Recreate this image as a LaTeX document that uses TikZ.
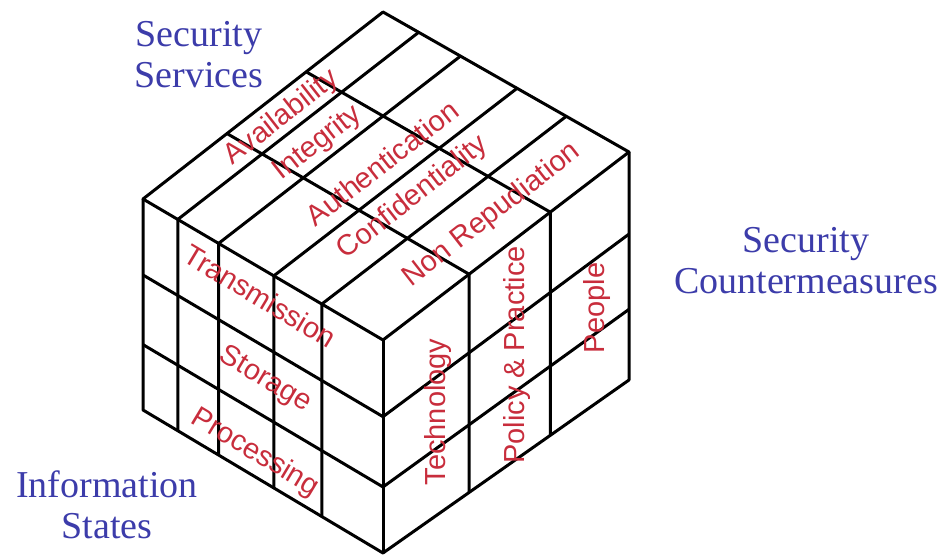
\documentclass[tikz,border=0pt]{standalone}
\usepackage{fontspec}
\setmainfont{Liberation Serif}
\newfontfamily\cubesans{Liberation Sans}
\usepackage{tikz}
\usetikzlibrary{calc}
\usepackage{xcolor}
\definecolor{dimblue}{RGB}{60,60,170}
\definecolor{cubered}{RGB}{200,45,60}

\begin{document}
\begin{tikzpicture}[x={(0.5pt,0)}, y={(0,-0.5pt)},
    cubeline/.style={line width=1.5pt, line join=round},
    dimlabel/.style={text=dimblue, align=center, font=\fontsize{19}{20.5}\selectfont},
    celllabel/.style={text=cubered, font=\cubesans\fontsize{14.5}{16}\selectfont}]
    \useasboundingbox (0,0) rectangle (944,557);

    % corners of the cube (pixel grid of the page)
    \coordinate (T)  at (383,12);
    \coordinate (L)  at (143,199);
    \coordinate (F)  at (383,340);
    \coordinate (R)  at (629,152);
    \coordinate (LB) at (143,410);
    \coordinate (FB) at (383,553);
    \coordinate (RB) at (629,380);

    \draw[cubeline] (L) -- (T) -- (R) -- (F) -- cycle;
    \draw[cubeline] (L) -- (LB) -- (FB) -- (RB) -- (R);
    \draw[cubeline] (F) -- (FB);
    % services: five slices
    \foreach \t in {0.145,0.315,0.545,0.745} {
        \draw[cubeline] ($(LB)!\t!(FB)$) -- ($(L)!\t!(F)$) -- ($(T)!\t!(R)$);
    }
    % countermeasures: three slices
    \foreach \s in {0.35,0.68} {
        \draw[cubeline] ($(L)!\s!(T)$) -- ($(F)!\s!(R)$) -- ($(FB)!\s!(RB)$);
    }
    % information states: three slices
    \foreach \r in {0.36,0.69} {
        \draw[cubeline] ($(L)!\r!(LB)$) -- ($(F)!\r!(FB)$) -- ($(R)!\r!(RB)$);
    }

    \node[celllabel, rotate=38] (avail) at (282,118) {Availability};
    \node[celllabel, rotate=38] (integ) at (318,143) {Integrity};
    \node[celllabel, rotate=38] (authn) at (382,163) {Authentication};
    \node[celllabel, rotate=38] (confid) at (413,198) {Confidentiality};
    \node[celllabel, rotate=38] (nonrep) at (492,215) {Non Repudiation};

    \node[celllabel, rotate=-31] (transm) at (260,296) {Transmission};
    \node[celllabel, rotate=-31] (stor) at (265,380) {Storage};
    \node[celllabel, rotate=-31] (proc) at (255,453) {Processing};

    \node[celllabel, rotate=90] (tech) at (438,412) {Technology};
    \node[celllabel, rotate=90] (policy) at (517,355) {Policy \& Practice};
    \node[celllabel, rotate=90] (people) at (597,308) {People};

    \node[dimlabel] (services) at (199,55) {Security\\Services};
    \node[dimlabel] (counter) at (806,261) {Security\\Countermeasures};
    \node[dimlabel] (states) at (107,505) {Information\\States};
\end{tikzpicture}
\end{document}
